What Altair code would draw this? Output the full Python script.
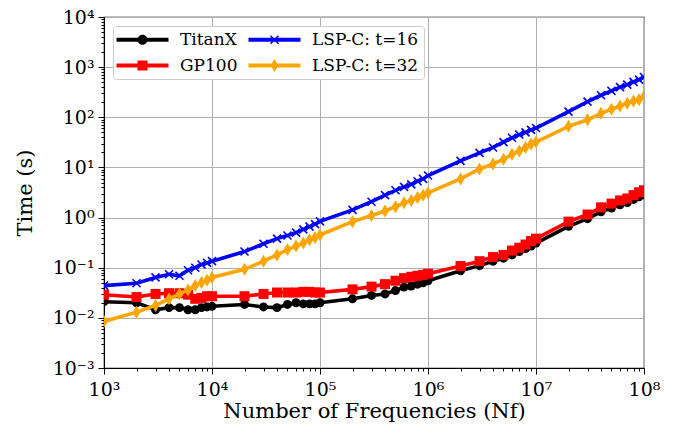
import json
import math
import altair as alt
import pandas as pd

FONT = "DejaVu Serif"

# ---------------- data ----------------
N = [1000, 2000, 3000, 4000, 5000, 6000, 7000, 8000, 9000,
     10000, 20000, 30000, 40000, 50000, 60000, 70000, 80000, 90000,
     100000, 200000, 300000, 400000, 500000, 600000, 700000, 800000, 900000,
     1000000, 2000000, 3000000, 4000000, 5000000, 6000000, 7000000, 8000000, 9000000,
     10000000, 20000000, 30000000, 40000000, 50000000, 60000000, 70000000, 80000000, 90000000,
     100000000]

titanx = [0.021, 0.020, 0.0145, 0.016, 0.016, 0.0145, 0.0145, 0.016, 0.0165,
          0.017, 0.0185, 0.0165, 0.016, 0.0185, 0.020, 0.019, 0.019, 0.019,
          0.020, 0.024, 0.028, 0.030, 0.035, 0.041, 0.043, 0.047, 0.050,
          0.055, 0.087, 0.11, 0.135, 0.155, 0.18, 0.21, 0.24, 0.27,
          0.31, 0.67, 0.95, 1.3, 1.55, 1.8, 2.0, 2.3, 2.6, 2.85]

gp100 = [0.029, 0.026, 0.030, 0.031, 0.031, 0.029, 0.024, 0.025, 0.027,
         0.027, 0.027, 0.030, 0.032, 0.032, 0.032, 0.033, 0.033, 0.032,
         0.032, 0.037, 0.042, 0.047, 0.055, 0.062, 0.066, 0.069, 0.072,
         0.076, 0.108, 0.135, 0.163, 0.18, 0.22, 0.25, 0.29, 0.34,
         0.38, 0.83, 1.15, 1.6, 1.9, 2.2, 2.4, 2.8, 3.2, 3.5]

lsp16 = [0.044, 0.049, 0.064, 0.074, 0.069, 0.089, 0.10, 0.116, 0.125,
         0.135, 0.21, 0.30, 0.38, 0.44, 0.50, 0.58, 0.66, 0.74,
         0.84, 1.42, 2.07, 2.8, 3.5, 4.1, 4.6, 5.3, 5.9,
         6.9, 13.5, 19.5, 25, 32, 39, 45, 50, 56,
         61, 130, 205, 275, 336, 400, 447, 507, 563, 635]

lsp32 = [0.0085, 0.013, 0.0177, 0.024, 0.030, 0.036, 0.044, 0.051, 0.056,
         0.064, 0.093, 0.135, 0.18, 0.23, 0.27, 0.31, 0.36, 0.40,
         0.45, 0.83, 1.1, 1.35, 1.65, 1.97, 2.2, 2.5, 2.8,
         3.1, 5.9, 9.3, 11.7, 14.5, 18.3, 21.3, 25, 29.3,
         32, 66, 89, 120, 145, 167, 190, 211, 225, 263]

series_names = ["TitanX", "GP100", "LSP-C: t=16", "LSP-C: t=32"]
series_values = [titanx, gp100, lsp16, lsp32]
series_colors = ["#000000", "#ff0000", "#0000ff", "#ffa500"]

x_major = [1e3, 1e4, 1e5, 1e6, 1e7, 1e8]
x_labels = ["10³", "10⁴", "10⁵", "10⁶", "10⁷", "10⁸"]
y_major = [1e-3, 1e-2, 1e-1, 1.0, 10.0, 100.0, 1000.0, 10000.0]
y_labels = ["10⁻³", "10⁻²", "10⁻¹", "10⁰", "10¹", "10²", "10³", "10⁴"]

x_title = "Number of Frequencies (Nf)"
y_title = "Time (s)"

# ---------------- helpers ----------------
def minor_values(majors):
    out = []
    for v in majors[:-1]:
        out += [m * v for m in range(2, 10)]
    return out


def label_expr(vals, labels):
    expr = "''"
    for v, l in reversed(list(zip(vals, labels))):
        expr = f"datum.value == {v!r} ? '{l}' : ({expr})"
    return expr


def major_test(vals):
    return f"indexof({json.dumps(vals)}, datum.value) >= 0"


def make_axis(majors, labels, title, title_pad, label_pad):
    return alt.Axis(
        values=sorted(majors + minor_values(majors)),
        labelExpr=label_expr(majors, labels),
        tickSize={"condition": {"test": major_test(majors), "value": 6}, "value": 3},
        gridOpacity={"condition": {"test": major_test(majors), "value": 1}, "value": 0},
        grid=True,
        labelOverlap=False,
        labelFlush=False,
        labelPadding=label_pad,
        title=title,
        titlePadding=title_pad,
    )


def poly(pts):
    area = sum(pts[i][0] * pts[(i + 1) % len(pts)][1] - pts[(i + 1) % len(pts)][0] * pts[i][1]
               for i in range(len(pts)))
    if area < 0:
        pts = pts[::-1]
    return "M" + "L".join(f"{x:.3f},{y:.3f}" for x, y in pts) + "Z"


def bar(x0, y0, x1, y1, t):
    dx, dy = x1 - x0, y1 - y0
    L = math.hypot(dx, dy)
    nx, ny = -dy / L * t, dx / L * t
    return poly([(x0 + nx, y0 + ny), (x1 + nx, y1 + ny), (x1 - nx, y1 - ny), (x0 - nx, y0 - ny)])


LINE = poly([(-5.2, -0.38), (5.2, -0.38), (5.2, 0.38), (-5.2, 0.38)])
legend_shapes = {
    "TitanX": LINE + "M1,0A1,1,0,1,1,-1,0A1,1,0,1,1,1,0Z",
    "GP100": LINE + poly([(-1, -1), (1, -1), (1, 1), (-1, 1)]),
    "LSP-C: t=16": LINE + bar(-0.8, -0.8, 0.8, 0.8, 0.15) + bar(-0.8, 0.8, 0.8, -0.8, 0.15),
    "LSP-C: t=32": LINE + poly([(0, -1.3), (0.78, 0), (0, 1.3), (-0.78, 0)]),
}

X_PATH = "M-1,-1L1,1M-1,1L1,-1"
DIAMOND_PATH = "M0,-1L0.6,0L0,1L-0.6,0Z"
marker_styles = [
    dict(shape="circle", size=80, filled=True),
    dict(shape="square", size=100, filled=True),
    dict(shape=X_PATH, size=64, filled=False, strokeWidth=1.6),
    dict(shape=DIAMOND_PATH, size=169, filled=True),
]

xscale = alt.Scale(type="log", domain=[1e3, 1e8], nice=False)
yscale = alt.Scale(type="log", domain=[1e-3, 1e4], nice=False)
xaxis = make_axis(x_major, x_labels, x_title, 1, 6)
yaxis = make_axis(y_major, y_labels, y_title, 17, 4)

# ---------------- legend carrier (clipped, only drives the legend) ----------------
# legend grid fills column by column: TitanX, GP100 | LSP-C t=16, LSP-C t=32
legend_order = series_names
legend_colors = series_colors
legend_df = pd.DataFrame({"series": legend_order, "N": [N[0]] * 4, "T": [1e-6] * 4})
legend_spec = alt.Legend(
    title=None, orient="top-left", columns=2, offset=9, padding=5,
    fillColor="white", strokeColor="#cccccc", cornerRadius=3,
    labelFont=FONT, labelFontSize=17, labelColor="black",
    symbolSize=100, symbolOffset=16, labelOffset=29,
    columnPadding=10, rowPadding=8, symbolStrokeWidth=0, labelLimit=0,
)
legend_layer = alt.Chart(legend_df).mark_point(filled=True, opacity=1, clip=True).encode(
    x=alt.X("N:Q", scale=xscale, axis=xaxis),
    y=alt.Y("T:Q", scale=yscale, axis=yaxis),
    color=alt.Color("series:N", scale=alt.Scale(domain=legend_order, range=legend_colors),
                    legend=legend_spec),
    shape=alt.Shape("series:N", scale=alt.Scale(domain=legend_order,
                                                range=[legend_shapes[s] for s in legend_order]),
                    legend=legend_spec),
)

layers = [legend_layer]
for name, vals, col, ms in zip(series_names, series_values, series_colors, marker_styles):
    df = pd.DataFrame({"N": N, "T": vals})
    base = alt.Chart(df).encode(
        x=alt.X("N:Q", scale=xscale, axis=xaxis),
        y=alt.Y("T:Q", scale=yscale, axis=yaxis),
    )
    layers.append(base.mark_line(color=col, strokeWidth=3.6, clip=True))
    layers.append(base.mark_point(color=col, opacity=1, clip=True, **ms))

chart = (
    alt.layer(*layers)
    .properties(
        width=540, height=351,
        padding={"left": 96, "top": 9, "right": 35, "bottom": 60},
        autosize=alt.AutoSizeParams(type="none"),
        background="white",
    )
    .configure_view(stroke="black", strokeWidth=1.2)
    .configure_axis(
        labelFont=FONT, labelFontSize=19, labelColor="black",
        titleFont=FONT, titleFontSize=21, titleFontWeight="normal", titleColor="black",
        domainColor="black", domainWidth=1, tickColor="black", tickWidth=1,
        gridColor="#b0b0b0", gridWidth=1,
    )
)

chart.save("out.html", embed_options={"renderer": "svg", "actions": False})
